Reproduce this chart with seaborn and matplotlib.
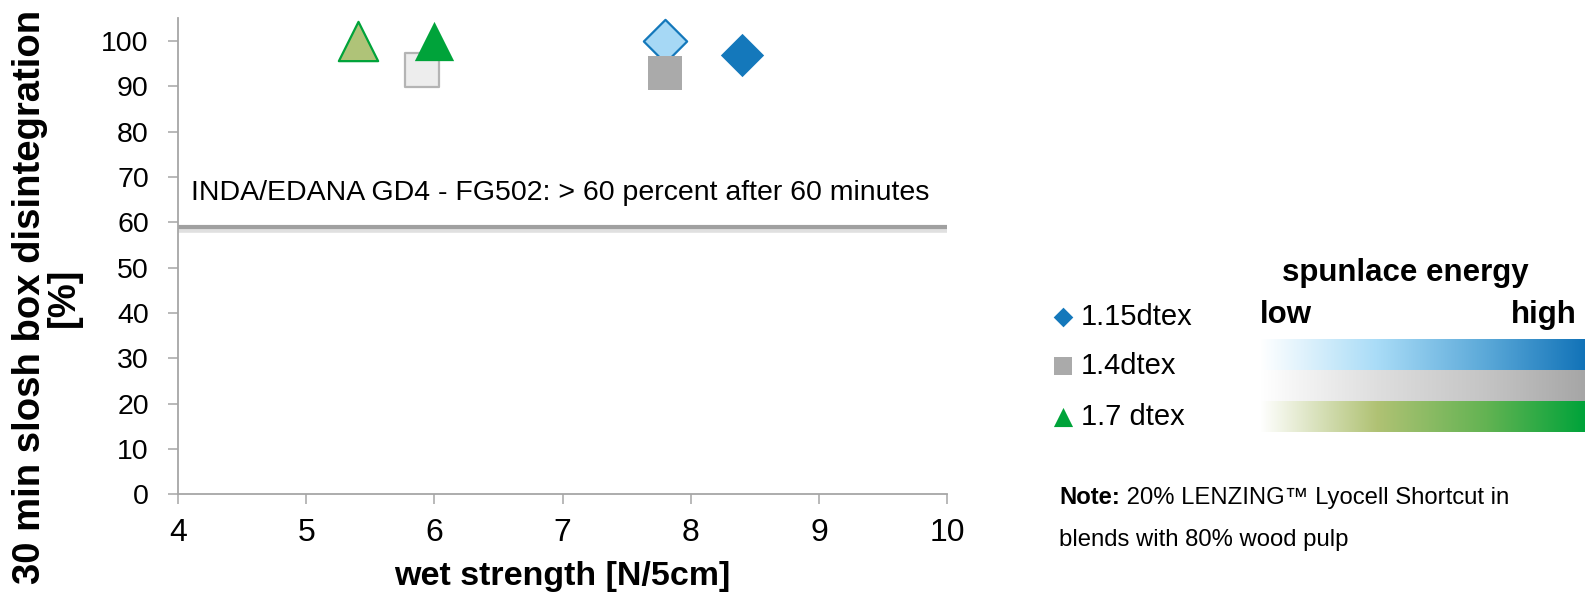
import numpy as np
import pandas as pd
import matplotlib
matplotlib.use("Agg")
import matplotlib.pyplot as plt
import matplotlib.patheffects as pe
from matplotlib.colors import LinearSegmentedColormap
import seaborn as sns

# ---- data -------------------------------------------------------------
fibers = ["1.15dtex", "1.4dtex", "1.7 dtex"]
energy_levels = ["low", "high"]

strength_115 = [7.8, 8.4]
disint_115 = [100, 97]
strength_14 = [5.9, 7.8]
disint_14 = [93.5, 93]
strength_17 = [5.4, 6.0]
disint_17 = [100, 100]

limit_value = 59
limit_label = "INDA/EDANA GD4 - FG502: > 60 percent after 60 minutes"

x_ticks = [4, 5, 6, 7, 8, 9, 10]
y_ticks = [0, 10, 20, 30, 40, 50, 60, 70, 80, 90, 100]

df = pd.DataFrame({
    "fiber": [fibers[0]] * 2 + [fibers[1]] * 2 + [fibers[2]] * 2,
    "energy": energy_levels * 3,
    "strength": strength_115 + strength_14 + strength_17,
    "disintegration": disint_115 + disint_14 + disint_17,
})

# ---- styles -------------------------------------------------------------
marker_of = {fibers[0]: "D", fibers[1]: "s", fibers[2]: "^"}
size_of = {fibers[0]: 486, fibers[1]: 580, fibers[2]: 800}
face = {
    (fibers[0], "low"): "#a6d8f5", (fibers[0], "high"): "#1478bb",
    (fibers[1], "low"): "#ededed", (fibers[1], "high"): "#aaaaaa",
    (fibers[2], "low"): "#afc378", (fibers[2], "high"): "#00a33a",
}
edge = {
    (fibers[0], "low"): "#1478bb", (fibers[0], "high"): "#1478bb",
    (fibers[1], "low"): "#b4b4b4", (fibers[1], "high"): "#aaaaaa",
    (fibers[2], "low"): "#00a33a", (fibers[2], "high"): "#00a33a",
}
legend_color = {fibers[0]: "#1478bb", fibers[1]: "#aaaaaa", fibers[2]: "#00a33a"}

sns.set_theme(style="white")
plt.rcParams["font.family"] = ["Liberation Sans", "DejaVu Sans"]
plt.rcParams["text.color"] = "black"
plt.rcParams["axes.labelcolor"] = "black"
spine_gray = "#a6a6a6"

W, H = 1585, 596
fig = plt.figure(figsize=(W / 100, H / 100), dpi=100)
ax = fig.add_axes([178 / W, 1 - 494.3 / H, (947.3 - 178) / W, (494.3 - 18.3) / H])

# reference line with a soft drop shadow
ax.plot([4, 10], [limit_value, limit_value], color="#a0a0a0", lw=3.0,
        solid_capstyle="butt", zorder=2,
        path_effects=[pe.SimpleLineShadow(offset=(0, -1.8), shadow_color="#9a9a9a",
                                          alpha=0.3, linewidth=5.5),
                      pe.Normal()])
ax.text(4.1, 63.5, limit_label, fontsize=20.5, color="black",
        ha="left", va="bottom", zorder=3)

# data points: diamonds first, then squares, then triangles on top
for fib in fibers:
    sub = df[df["fiber"] == fib]
    for _, row in sub.iterrows():
        key = (fib, row["energy"])
        sns.scatterplot(x=[row["strength"]], y=[row["disintegration"]], ax=ax,
                        marker=marker_of[fib], s=size_of[fib],
                        color=face[key], edgecolor=edge[key],
                        linewidth=1.6 if row["energy"] == "low" else 0,
                        zorder=4, legend=False)

ax.set_xlim(4, 10)
ax.set_ylim(0, 105)
ax.set_xticks(x_ticks)
ax.set_yticks(y_ticks)
ax.set_xticklabels([str(v) for v in x_ticks])
ax.set_yticklabels([str(v) for v in y_ticks])
ax.tick_params(axis="x", labelsize=23, length=7, width=1.1, color=spine_gray,
               labelcolor="black", direction="out", pad=10, bottom=True)
ax.tick_params(axis="y", labelsize=20.5, length=7, width=1.1, color=spine_gray,
               labelcolor="black", direction="out", pad=14, left=True)
for side in ["top", "right"]:
    ax.spines[side].set_visible(False)
for side in ["left", "bottom"]:
    ax.spines[side].set_color(spine_gray)
    ax.spines[side].set_linewidth(1.3)

ax.set_xlabel("wet strength [N/5cm]", fontsize=24.5, fontweight="bold")
ax.set_ylabel("30 min slosh box disintegration\n[%]", fontsize=27.5, fontweight="bold",
              linespacing=0.95)
ax.xaxis.label.set_va("center")
ax.yaxis.label.set_va("center")
ax.xaxis.set_label_coords(0.5, (494.3 - 576) / 476)
ax.yaxis.set_label_coords((47 - 178) / 769.3, (494.3 - 297) / 476)

# ---- legend / spunlace energy panel (pixel coordinates) -----------------
pan = fig.add_axes([0, 0, 1, 1], facecolor="none")
pan.set_xlim(0, W)
pan.set_ylim(H, 0)
pan.set_axis_off()

legend_rows = [317, 366, 417]
legend_sizes = {fibers[0]: 100, fibers[1]: 180, fibers[2]: 190}
for fib, yy in zip(fibers, legend_rows):
    pan.scatter([1063], [yy], marker=marker_of[fib], s=legend_sizes[fib],
                color=legend_color[fib], linewidths=0)
    pan.text(1081, yy, fib, fontsize=21, ha="left", va="center")

pan.text(1405, 273, "spunlace energy", fontsize=22.5, fontweight="bold",
         ha="center", va="center")
pan.text(1260, 315, "low", fontsize=22.5, fontweight="bold", ha="left", va="center")
pan.text(1577, 315, "high", fontsize=22.5, fontweight="bold", ha="right", va="center")

grad = np.linspace(0, 1, 512).reshape(1, -1)
bands = [
    (339, 370, ["#ffffff", "#a9dcf7", "#5aa8d8", "#1273b8"]),
    (370, 401, ["#ffffff", "#dedede", "#c4c4c4", "#a6a6a6"]),
    (401, 432, ["#ffffff", "#b0c274", "#62b352", "#00a33a"]),
]
for top, bottom, cols in bands:
    cmap = LinearSegmentedColormap.from_list(
        "band", list(zip([0.0, 0.36, 0.7, 1.0], cols)))
    pan.imshow(grad, cmap=cmap, aspect="auto", extent=[1260, W, bottom, top],
               interpolation="bilinear")
pan.set_xlim(0, W)
pan.set_ylim(H, 0)

note_head = pan.text(1059, 498, "Note:", fontsize=17.2, fontweight="bold",
                     ha="left", va="center")
pan.annotate(" 20% LENZING™ Lyocell Shortcut in", xy=(1, 0.5), xycoords=note_head,
             fontsize=17.2, ha="left", va="center")
pan.text(1059, 540, "blends with 80% wood pulp", fontsize=17.2, ha="left",
         va="center")

fig.savefig("out.png", dpi=100, facecolor="white")
